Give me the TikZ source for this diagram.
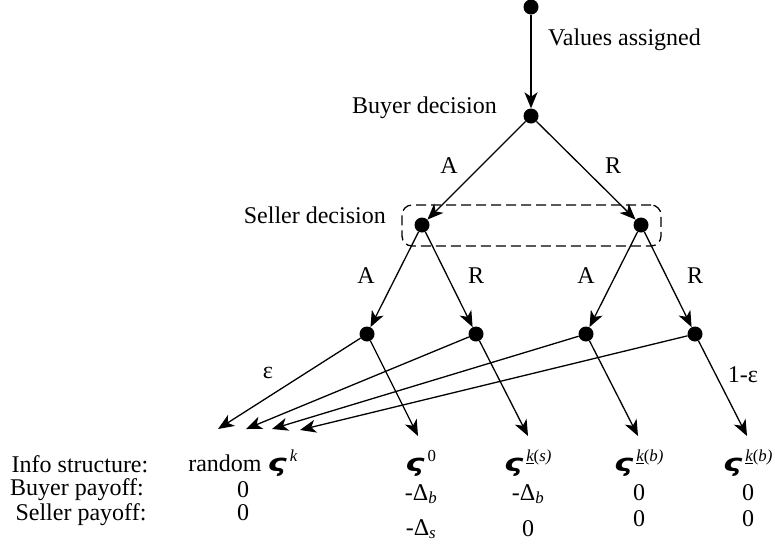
\documentclass[tikz,border=0pt]{standalone}
\usepackage{fontspec}
\setmainfont{Liberation Serif}
\newfontfamily\sigfont{DejaVu Sans}
\usetikzlibrary{arrows.meta}
\newcommand{\sig}{\scalebox{1.35}[1.0]{\sigfont\bfseries\itshape ς}\kern3pt}
\newcommand{\ksub}[1]{\underline{\itshape k}(\itshape #1)}
\begin{document}
\begin{tikzpicture}[x=1pt,y=-1pt,
  font=\fontsize{24}{28}\selectfont,
  dot/.style={circle,fill=black,inner sep=0pt,minimum size=15pt},
  edge/.style={line width=1.3pt,-{Stealth[length=16pt,width=13pt,inset=4.5pt]}},
  lbl/.style={inner sep=0pt,anchor=base},
  infobox/.style={draw,line width=1.3pt,dash pattern=on 10pt off 5pt,rounded corners=10pt,
    minimum width=259pt,minimum height=41pt,inner sep=0pt}]
\useasboundingbox (0,0) rectangle (775,550);
% nodes
\node[dot] (top) at (531,7) {};
\node[dot] (buy) at (531,116) {};
\node[dot] (sL) at (422,225) {};
\node[dot] (sR) at (641,225) {};
\node[dot] (c1) at (367,334) {};
\node[dot] (c2) at (476,334) {};
\node[dot] (c3) at (586,334) {};
\node[dot] (c4) at (695,334) {};
\node[infobox] (info) at (531.5,225.5) {};
% free ends
\coordinate (t1) at (218,429);
\coordinate (t2) at (246,429);
\coordinate (t3) at (272,429);
\coordinate (t4) at (300,430);
\coordinate (v1) at (418,436);
\coordinate (v2) at (528,436);
\coordinate (v3) at (638,436);
\coordinate (v4) at (747,436);
% edges
\draw[edge] (top) -- (buy);
\draw[edge] (buy) -- (sL);
\draw[edge] (buy) -- (sR);
\draw[edge] (sL) -- (c1);
\draw[edge] (sL) -- (c2);
\draw[edge] (sR) -- (c3);
\draw[edge] (sR) -- (c4);
\draw[edge] (c1) -- (t1);
\draw[edge] (c2) -- (t2);
\draw[edge] (c3) -- (t3);
\draw[edge] (c4) -- (t4);
\draw[edge] (c1) -- (v1);
\draw[edge] (c2) -- (v2);
\draw[edge] (c3) -- (v3);
\draw[edge] (c4) -- (v4);
% labels
\node[lbl,anchor=base west] (lva) at (548,45) {Values assigned};
\node[lbl,anchor=base east] (lbd) at (497,113) {Buyer decision};
\node[lbl,anchor=base east] (lsd) at (386,223) {Seller decision};
\node[lbl] (la1) at (449,173) {A};
\node[lbl] (lr1) at (613,173) {R};
\node[lbl] (la2) at (366,283) {A};
\node[lbl] (lr2) at (476,283) {R};
\node[lbl] (la3) at (586,283) {A};
\node[lbl] (lr3) at (695,283) {R};
\node[lbl] (leps) at (268,378) {ε};
\node[lbl] (l1eps) at (743,382) {1-ε};
% rows
\node[lbl] (rinfo) at (80,472) {Info structure:};
\node[lbl] (rbuy) at (77,495) {Buyer payoff:};
\node[lbl] (rsel) at (81,520) {Seller payoff:};
\node[lbl] (i1) at (243,471) {random \sig\textsuperscript{\itshape k}};
\node[lbl] (i2) at (421,471) {\sig\textsuperscript{0}};
\node[lbl] (i3) at (528,471) {\sig\textsuperscript{\ksub{s}}};
\node[lbl] (i4) at (639,471) {\sig\textsuperscript{\ksub{b}}};
\node[lbl] (i5) at (748,471) {\sig\textsuperscript{\ksub{b}}};
\node[lbl] (b1) at (243,497) {0};
\node[lbl] (b2) at (421,500) {-Δ\textsubscript{\itshape b}};
\node[lbl] (b3) at (528,500) {-Δ\textsubscript{\itshape b}};
\node[lbl] (b4) at (639,500) {0};
\node[lbl] (b5) at (748,500) {0};
\node[lbl] (s1) at (243,520) {0};
\node[lbl] (s2) at (421,535) {-Δ\textsubscript{\itshape s}};
\node[lbl] (s3) at (528,536) {0};
\node[lbl] (s4) at (639,526) {0};
\node[lbl] (s5) at (748,526) {0};
\end{tikzpicture}
\end{document}
